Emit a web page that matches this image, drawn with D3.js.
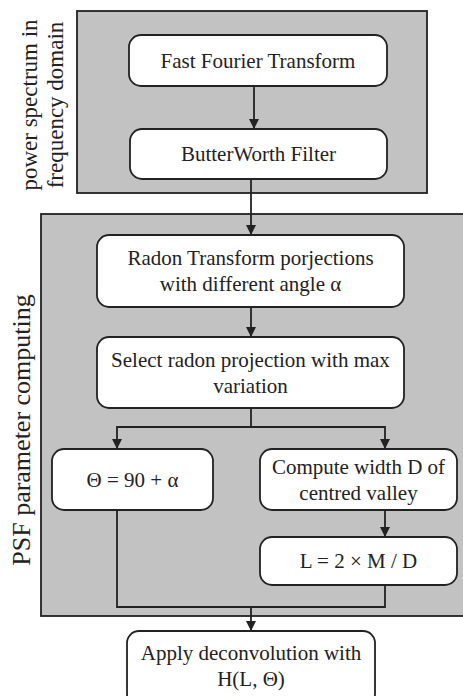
<!DOCTYPE html>
<html><head><meta charset="utf-8">
<script src="https://cdn.jsdelivr.net/npm/d3@7"></script>
<style>body{margin:0;background:#fff}svg{display:block}</style>
</head><body>
<svg id="c" width="463" height="696"></svg>
<script>
// Content
const groupLabels = [["power spectrum in","frequency domain"],["PSF parameter computing"]];
const stepIds = ["fft","bw","radon","select","theta","width","len","apply"];
const stepLabels = [
  ["Fast Fourier Transform"],
  ["ButterWorth Filter"],
  ["Radon Transform porjections","with different angle α"],
  ["Select radon projection with max","variation"],
  ["Θ = 90 + α"],
  ["Compute width D of","centred valley"],
  ["L = 2 × M / D"],
  ["Apply deconvolution with","H(L, Θ)"]
];

// Layout (pixels)
const layout = {
  fft:{x:129,y:35,w:258,h:51},
  bw:{x:130,y:129,w:257,h:50},
  radon:{x:97,y:235,w:307,h:72},
  select:{x:97,y:337,w:307,h:71},
  theta:{x:52,y:449,w:161,h:61},
  width:{x:260,y:449,w:197,h:61},
  len:{x:260,y:537,w:197,h:48},
  apply:{x:127,y:631,w:248,h:75}
};
const groups = [
  {x:77,y:11,w:350,h:182, lx:[29,55], ly:105, fs:23},
  {x:41,y:214,w:440,h:402, lx:[21], ly:430, fs:26}
];

const svg = d3.select("#c");
const ink = "#222";
const font = "'Liberation Serif','Times New Roman',serif";

svg.append("defs").append("marker")
  .attr("id","ah").attr("viewBox","0 0 10 10").attr("refX",10).attr("refY",5)
  .attr("markerWidth",10).attr("markerHeight",11).attr("markerUnits","userSpaceOnUse")
  .attr("orient","auto")
  .append("path").attr("d","M0,0 L10,5 L0,10 Z").attr("fill",ink);

// group panels
groups.forEach((g,i)=>{
  svg.append("rect").attr("x",g.x).attr("y",g.y).attr("width",g.w).attr("height",g.h)
    .attr("fill","#c2c2c2").attr("stroke",ink).attr("stroke-width",1.8);
  groupLabels[i].forEach((t,j)=>{
    svg.append("text").attr("transform",`translate(${g.lx[j]},${g.ly}) rotate(-90)`)
      .attr("text-anchor","middle").attr("dominant-baseline","central")
      .attr("font-family",font).attr("font-size",g.fs).attr("fill","#222").text(t);
  });
});

// connectors
const cx = 251;
const line = d3.line();
const L = layout;
const conns = [
  {pts:[[254,L.fft.y+L.fft.h],[254,L.bw.y]],arrow:true},
  {pts:[[cx,L.bw.y+L.bw.h],[cx,L.radon.y]],arrow:true},
  {pts:[[cx,L.radon.y+L.radon.h],[cx,L.select.y]],arrow:true},
  {pts:[[cx,L.select.y+L.select.h],[cx,427]],arrow:false},
  {pts:[[cx,427],[117,427],[117,L.theta.y]],arrow:true},
  {pts:[[cx,427],[385,427],[385,L.width.y]],arrow:true},
  {pts:[[385,L.width.y+L.width.h],[385,L.len.y]],arrow:true},
  {pts:[[117,L.theta.y+L.theta.h],[117,607],[385,607],[385,L.len.y+L.len.h]],arrow:false},
  {pts:[[cx,607],[cx,L.apply.y]],arrow:true}
];
conns.forEach(c=>{
  svg.append("path").attr("d",line(c.pts)).attr("fill","none")
    .attr("stroke",ink).attr("stroke-width",1.8)
    .attr("marker-end",c.arrow?"url(#ah)":null);
});

// boxes
stepIds.forEach((id,i)=>{
  const b = layout[id];
  const g = svg.append("g");
  g.append("rect").attr("x",b.x).attr("y",b.y).attr("width",b.w).attr("height",b.h)
    .attr("rx",12).attr("ry",12).attr("fill","#fff").attr("stroke",ink).attr("stroke-width",1.8);
  const lines = stepLabels[i];
  const lh = 26;
  const cy = id==="apply" ? b.y+35 : b.y+b.h/2;
  lines.forEach((t,j)=>{
    g.append("text").attr("x",b.x+b.w/2).attr("y",cy+(j-(lines.length-1)/2)*lh)
      .attr("text-anchor","middle").attr("dominant-baseline","central")
      .attr("font-family",font).attr("font-size",21).attr("fill","#222").text(t);
  });
});
</script>
</body></html>
